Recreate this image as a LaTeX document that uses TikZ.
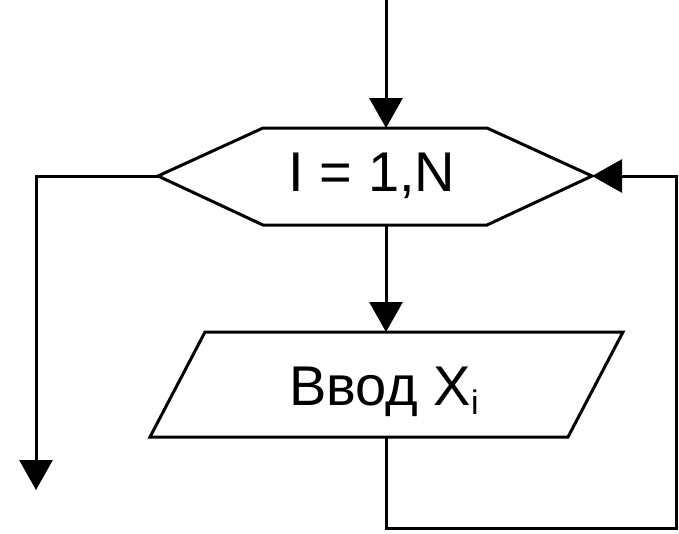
\documentclass[tikz,border=0pt]{standalone}
\usepackage{fontspec}
\setmainfont{Liberation Sans}
\usetikzlibrary{arrows.meta}
\tikzset{
  shapeline/.style={line width=3pt, line join=miter},
  conn/.style={line width=3pt},
  flowarrow/.style={conn, -{Triangle[width=33pt,length=30pt]}},
  label/.style={anchor=base, inner sep=0pt, font=\fontsize{56}{60}\selectfont}
}
\begin{document}
\begin{tikzpicture}[x=1pt,y=-1pt]
\useasboundingbox (0,0) rectangle (679,533);
% hexagon corner coordinates
\coordinate (hL) at (158,176);
\coordinate (hTL) at (263,128);
\coordinate (hTR) at (487,128);
\coordinate (hR) at (592,176);
\coordinate (hBR) at (487,225);
\coordinate (hBL) at (263,225);
\coordinate (hT) at (386,128);
\coordinate (hB) at (386,225);
% parallelogram corners
\coordinate (pTL) at (205,332);
\coordinate (pTR) at (623,332);
\coordinate (pBR) at (568,437);
\coordinate (pBL) at (150,437);
\coordinate (pT) at (386,332);
\coordinate (pB) at (386,437);
% free ends and bends
\coordinate (start) at (386,0);
\coordinate (exitbend) at (36,176);
\coordinate (exitend) at (36,490);
\coordinate (loopA) at (386,528);
\coordinate (loopB) at (676,528);
\coordinate (loopC) at (676,176);

\draw[shapeline] (hL) -- (hTL) -- (hTR) -- (hR) -- (hBR) -- (hBL) -- cycle;
\draw[shapeline] (pTL) -- (pTR) -- (pBR) -- (pBL) -- cycle;

\node[label] (loop) at (372,191) {I = 1,N};
\node[label] (input) at (384,405) {Ввод X\raisebox{-9pt}{\fontsize{34}{36}\selectfont i}};

\draw[flowarrow] (start) -- (hT);
\draw[flowarrow] (hB) -- (pT);
\draw[flowarrow] (hL) -- (exitbend) -- (exitend);
\draw[flowarrow] (pB) -- (loopA) -- (loopB) -- (loopC) -- (hR);
\end{tikzpicture}
\end{document}
